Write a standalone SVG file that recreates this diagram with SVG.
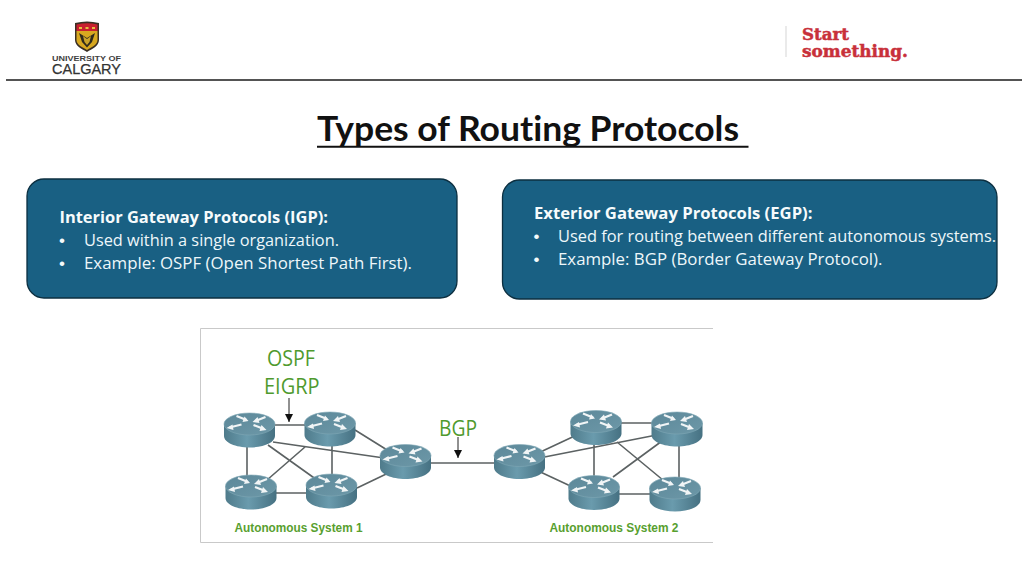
<svg xmlns="http://www.w3.org/2000/svg" width="1024" height="576" viewBox="0 0 1024 576">
<style>
.box{fill:#196083;stroke:#0c2f40;stroke-width:1.3}
.t{font-family:"Open Sans","Noto Sans",sans-serif;font-size:15.500px;font-weight:500;fill:#eef7fa;font-variant-ligatures:none}
.d{font-family:"Liberation Sans",Arial,sans-serif;font-size:17px;fill:#f4fafb}
.b{font-weight:700;fill:#f6fbfc}
.g{font-family:"Open Sans","Noto Sans",sans-serif;font-size:22px;fill:#4f9a2e}
.as{font-family:"Liberation Sans",Arial,sans-serif;font-size:12px;font-weight:700;fill:#58a02f}
.c{fill:none;stroke:#5c6263;stroke-width:1.600}
.a{fill:none;stroke:#222;stroke-width:1}
</style>
<defs>
<linearGradient id="rb" x1="0" x2="1" y1="0" y2="0"><stop offset="0" stop-color="#4f7b8b"/><stop offset=".45" stop-color="#6a9bad"/><stop offset="1" stop-color="#467182"/></linearGradient>
<linearGradient id="rt" x1="0" x2="1" y1="0" y2="1"><stop offset="0" stop-color="#5c8899"/><stop offset="1" stop-color="#6d98a8"/></linearGradient>
<g id="router">
<path d="M-25.500 11V23C-25.500 29.500-14 34.500 0 34.500S25.500 29.500 25.500 23V11Z" fill="url(#rb)"/>
<ellipse cx="0" cy="11" rx="25.500" ry="11" fill="url(#rt)" stroke="#7fa7b5" stroke-width=".6"/>
<g fill="none" stroke="#f1f5f6" stroke-width="2.200">
<path d="M-13 3L-3 7M16 4L6 8M-20 14.500L-8 11.500M4 12L13 15.500"/>
</g>
<path d="M-1 8L-7 9L-5 3.500ZM3 9L8 4L10 10ZM-23 15L-17 11.500L-16 17ZM17 17L10 18L12 12Z" fill="#f1f5f6"/>
</g>
<marker id="ah" markerUnits="userSpaceOnUse" markerWidth="9" markerHeight="8" refX="8" refY="4" orient="auto"><path d="M0 0L8 4L0 8Z" fill="#111"/></marker>
</defs>
<rect width="1024" height="576" fill="#fff"/>
<path d="M6 80H1022" stroke="#1a1a1a" stroke-width="1.600"/>
<g id="logo-uc">
<path d="M75 23Q87 20 99 23V40C99 46 92 49 87 52C82 49 75 46 75 40Z" fill="#3a2f24"/>
<path d="M76.500 24.500Q87 22 97.500 24.500V31H76.500Z" fill="#c8202e"/>
<path d="M76.500 31H97.500V40C97.500 45 91 47.500 87 50C83 47.500 76.500 45 76.500 40Z" fill="#d8a820"/>
<path d="M79 33L87 38L95 33L92 42L87 47.500L82 42Z" fill="#2f2a1c"/>
<path d="M83 36L87 39L91 36L89.500 42L87 45L84.500 42Z" fill="#c9a32a"/>
<path d="M79 27h3v2h-3zM85.500 27h3v2h-3zM92 27h3v2h-3z" fill="#e6c040"/>
<text x="52" y="60.500" font-family="'Liberation Sans',Arial,sans-serif" font-size="8px" font-weight="700" fill="#3f3f3f" textLength="69" lengthAdjust="spacingAndGlyphs">UNIVERSITY OF</text>
<text x="52" y="73.500" font-family="'Liberation Sans',Arial,sans-serif" font-size="14px" fill="#333" stroke="#333" stroke-width=".25" textLength="69" lengthAdjust="spacingAndGlyphs">CALGARY</text>
</g>
<g id="logo-start">
<path d="M786 26V57" stroke="#e3e3e3" stroke-width="1.500"/>
<text x="802" y="40" font-family="'DejaVu Serif',serif" font-size="17px" font-weight="700" fill="#c8303a" stroke="#c8303a" stroke-width=".5" textLength="47" lengthAdjust="spacingAndGlyphs">Start</text>
<text x="802" y="56.500" font-family="'DejaVu Serif',serif" font-size="17px" font-weight="700" fill="#c8303a" stroke="#c8303a" stroke-width=".5" textLength="106" lengthAdjust="spacingAndGlyphs">something.</text>
</g>
<g id="title">
<text x="317" y="140.500" font-family="Lato,'Open Sans',sans-serif" font-size="34px" font-weight="700" fill="#111" style="font-variant-ligatures:none" textLength="422" lengthAdjust="spacingAndGlyphs">Types of Routing Protocols</text>
<path d="M317 146.800H748.500" stroke="#111" stroke-width="2"/>
</g>
<g id="igp">
<rect class="box" x="27" y="179" width="430" height="119" rx="17"/>
<text class="t b" x="59.500" y="222.500" textLength="268.500" lengthAdjust="spacingAndGlyphs">Interior Gateway Protocols (IGP):</text>
<text class="d" x="59" y="245.500">•</text><text class="t" x="84" y="245.500" textLength="255" lengthAdjust="spacingAndGlyphs">Used within a single organization.</text>
<text class="d" x="59" y="268.500">•</text><text class="t" x="84" y="268.500" textLength="328" lengthAdjust="spacingAndGlyphs">Example: OSPF (Open Shortest Path First).</text>
</g>
<g id="egp">
<rect class="box" x="502.500" y="180" width="494.500" height="119" rx="17"/>
<text class="t b" x="534" y="218.500" textLength="278.500" lengthAdjust="spacingAndGlyphs">Exterior Gateway Protocols (EGP):</text>
<text class="d" x="533.500" y="241.500">•</text><text class="t" x="558" y="241.500" textLength="438" lengthAdjust="spacingAndGlyphs">Used for routing between different autonomous systems.</text>
<text class="d" x="533.500" y="264.500">•</text><text class="t" x="558" y="264.500" textLength="324.500" lengthAdjust="spacingAndGlyphs">Example: BGP (Border Gateway Protocol).</text>
</g>
<path id="figure-frame" d="M713 328.500H200.500V542.500H713" fill="none" stroke="#c9c9c9" stroke-width="1"/>
<g id="connectors">
<path class="c" d="M250 425H330M247 435V490M332 435V490M251 493H331M273 442L405 461M268 445L331 490M305 447L267 480M355 430L400 458M357 488L405 465M431 463H519M519 462L596 426M519 462L677 431M519 462L594 497M596 423H677M594 435V490M679 435V490M594 494H675M617 442L675 490M677 430L613 477"/>
<path class="a" d="M289 398V422" marker-end="url(#ah)"/>
<path class="a" d="M458 437V458" marker-end="url(#ah)"/>
</g>
<g id="r1"><use href="#router" x="249.500" y="413"/></g>
<g id="r2"><use href="#router" x="330" y="412"/></g>
<g id="r3"><use href="#router" x="251" y="475"/></g>
<g id="r4"><use href="#router" x="331.500" y="474"/></g>
<g id="r5"><use href="#router" x="405.500" y="444.500"/></g>
<g id="r6"><use href="#router" x="519.500" y="444.500"/></g>
<g id="r7"><use href="#router" x="596" y="410.500"/></g>
<g id="r8"><use href="#router" x="677" y="412"/></g>
<g id="r9"><use href="#router" x="594" y="475.500"/></g>
<g id="r10"><use href="#router" x="675" y="477"/></g>
<g id="labels">
<text class="g" x="267" y="365.500" textLength="48" lengthAdjust="spacingAndGlyphs">OSPF</text>
<text class="g" x="264" y="394" textLength="55.500" lengthAdjust="spacingAndGlyphs">EIGRP</text>
<text class="g" x="439" y="435.500" textLength="38" lengthAdjust="spacingAndGlyphs">BGP</text>
<text class="as" x="234.500" y="532" textLength="128" lengthAdjust="spacingAndGlyphs">Autonomous System 1</text>
<text class="as" x="549.500" y="532" textLength="129" lengthAdjust="spacingAndGlyphs">Autonomous System 2</text>
</g>
</svg>
